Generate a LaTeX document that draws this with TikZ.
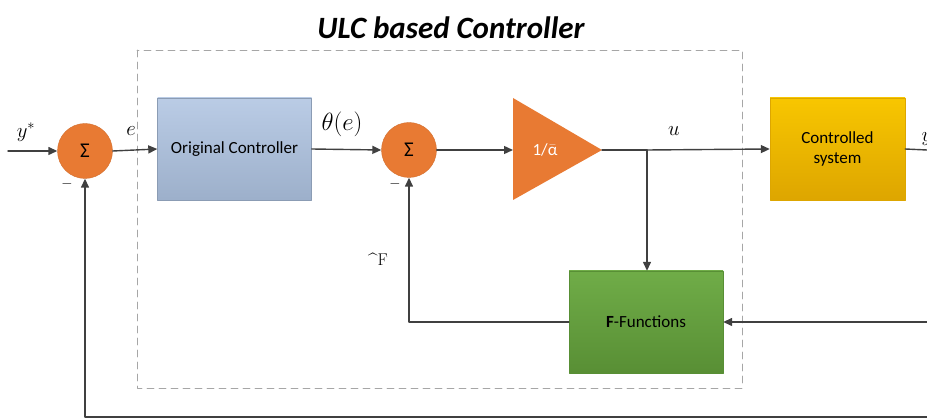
\documentclass[tikz,border=0pt]{standalone}
\usepackage{fontspec}
\setsansfont{Carlito}
\usetikzlibrary{arrows.meta}
\definecolor{sumorange}{HTML}{E87A33}
\definecolor{ctrlblue}{HTML}{AEC3E1}
\definecolor{plantgold}{HTML}{F6B800}
\definecolor{fgreen}{HTML}{68A83E}
\definecolor{wiregray}{HTML}{404040}

\tikzset{
  sumnode/.style={circle,fill=sumorange,draw=sumorange!90!black,minimum size=55pt,inner sep=0pt,font=\sffamily\fontsize{21}{23}\selectfont},
  blockbox/.style={rectangle,minimum width=#1,minimum height=102pt,inner sep=0pt,align=center,font=\sffamily\fontsize{17}{20}\selectfont},
  lbl/.style={font=\fontsize{20}{22}\selectfont},
  wire/.style={draw=wiregray,line width=1.4pt},
  sig/.style={wire,-{Triangle[length=9pt,width=8pt]}}
}

\begin{document}
\begin{tikzpicture}[x=1pt,y=-1pt,line cap=round,line join=round]
  \useasboundingbox (0,0) rectangle (927,419);
  \clip (0,0) rectangle (927,419);

  % ULC frame and title
  \draw [gray!70,dashed,dash pattern=on 7pt off 5pt,line width=0.9pt] (137,50) rectangle (742,388);
  \node (title) at (451,28) {\sffamily\bfseries\itshape\fontsize{31}{34}\selectfont ULC based Controller};

  % blocks
  \node [sumnode] (sum1) at (85,151) {Σ};
  \node [blockbox=154pt,top color=ctrlblue!85!white,bottom color=ctrlblue!90!black,draw=ctrlblue!80!black] (orig) at (234.5,149) {Original Controller};
  \node [sumnode] (sum2) at (409,150) {Σ};
  \fill [sumorange] (513,98) -- (602,150) -- (513,200) -- cycle;
  \coordinate (ampin) at (513,150);
  \coordinate (ampout) at (602,150);
  \node [text=white,inner sep=0pt,font=\sffamily\fontsize{17}{19}\selectfont] (gain) at (545,150) {1/$\bar{\textrm{\sffamily α}}$};
  \node [blockbox=135pt,top color=plantgold!80!yellow,bottom color=plantgold!90!black,draw=plantgold!90!black] (plant) at (837.5,149) {Controlled\\system};
  \node [blockbox=154pt,top color=fgreen!95!white,bottom color=fgreen!85!black,draw=fgreen!85!black] (ffun) at (646,322) {\textbf{F}-Functions};

  % helper points
  \coordinate (split) at (647,150);
  \coordinate (yin) at (8,151);
  \coordinate (youtE) at (927,150);
  \coordinate (fbE) at (927,322);
  \coordinate (loopE) at (927,417);
  \coordinate (fhatC) at (409,322);

  % signal lines
  \draw [sig] (yin) -- (sum1.west);
  \draw [sig] (sum1.east) -- (orig.west);
  \draw [sig] (orig.east) -- (sum2.west);
  \draw [sig] (sum2.east) -- (ampin);
  \draw [wire] (ampout) -- (split);
  \draw [sig] (split) -- (plant.west);
  \draw [sig] (split) -- (ffun.north -| split);
  \draw [wire] (plant.east) -- (youtE);
  \draw [sig] (fbE) -- (ffun.east);
  \draw [sig] (ffun.west) -- (fhatC) -- (sum2.south);
  \draw [sig] (loopE) -| (sum1.south);

  % labels
  \node [lbl] (lyref) at (26,132) {$y^*$};
  \node [lbl] (le) at (131,131) {$e$};
  \node (ltheta) at (342,124) {\fontsize{24}{26}\selectfont$\theta(e)$};
  \node [lbl] (lu) at (674,131) {$u$};
  \node [lbl] (ly) at (927,139) {$y$};
  \node [font=\fontsize{17}{19}\selectfont] (lfhat) at (378,259) {\^{}F};
  \node [font=\fontsize{14}{16}\selectfont] (lm1) at (67,184) {$-$};
  \node [font=\fontsize{14}{16}\selectfont] (lm2) at (395,184) {$-$};
\end{tikzpicture}
\end{document}
